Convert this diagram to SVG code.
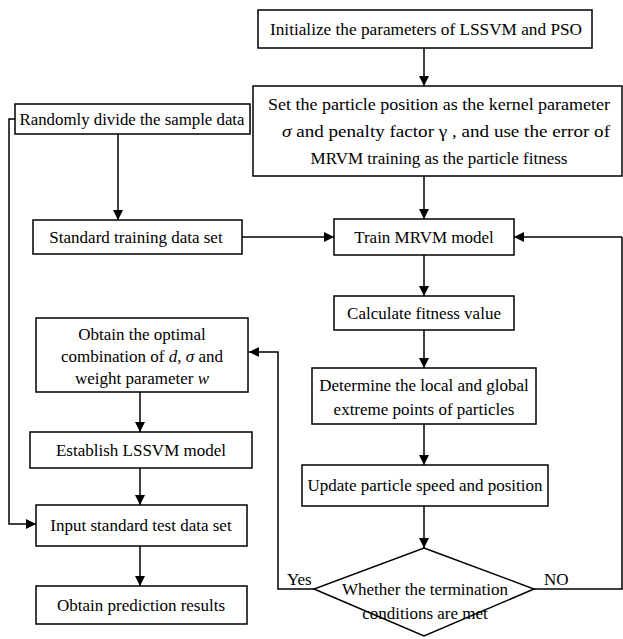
<svg xmlns="http://www.w3.org/2000/svg" width="623" height="639" viewBox="0 0 623 639" font-family="Liberation Serif, serif">
<defs>
<marker id="ah" viewBox="0 0 10 10" refX="10" refY="5" markerWidth="10" markerHeight="10" markerUnits="userSpaceOnUse" orient="auto">
<path d="M0,0 L10,5 L0,10 Z" fill="#000"/>
</marker>
<style>
.b{fill:#fff;stroke:#000;stroke-width:1.5}
.t{font-family:'Liberation Serif',serif;font-size:17px;fill:#000;text-anchor:middle}
.l{font-family:'Liberation Serif',serif;font-size:17px;fill:#000}
.c{fill:none;stroke:#000;stroke-width:1.5}
.a{fill:none;stroke:#000;stroke-width:1.5;marker-end:url(#ah)}
</style>
</defs>
<rect width="623" height="639" fill="#fff"/>
<g id="connectors">
<path class="a" d="M424,48 V86"/>
<path class="a" d="M424,176 V219"/>
<path class="a" d="M118,134 V220"/>
<path class="a" d="M242,237 H334"/>
<path class="a" d="M622,237 H514"/>
<path class="a" d="M424,255 V296"/>
<path class="a" d="M424,330 V368"/>
<path class="a" d="M424,424 V465"/>
<path class="a" d="M424,506 V548"/>
<path class="a" d="M314,589 H278 V352 H249"/>
<path class="c" d="M534,589 H622 V237"/>
<path class="a" d="M15,119 H9 V524 H36"/>
<path class="a" d="M140,392 V432"/>
<path class="a" d="M140,468 V505"/>
<path class="a" d="M140,546 V586"/>
</g>
<g id="init"><rect class="b" x="258" y="10" width="334" height="38"/><text class="t" x="426" y="35" textLength="312" lengthAdjust="spacingAndGlyphs">Initialize the parameters of LSSVM and PSO</text></g>
<g id="setpos"><rect class="b" x="253" y="86" width="369" height="90"/>
<text class="t" x="439" y="110" textLength="342" lengthAdjust="spacingAndGlyphs">Set the particle position as the kernel parameter</text>
<text class="t" x="446" y="137" textLength="328" lengthAdjust="spacingAndGlyphs"><tspan font-style="italic">σ</tspan>   and penalty factor  γ , and use the error of</text>
<text class="t" x="439" y="164">MRVM training as the particle fitness</text></g>
<g id="random"><rect class="b" x="15" y="104" width="235" height="30"/><text class="t" x="132" y="125" textLength="225" lengthAdjust="spacingAndGlyphs">Randomly divide the sample data</text></g>
<g id="stdtrain"><rect class="b" x="33" y="220" width="209" height="34"/><text class="t" x="136" y="243">Standard training data set</text></g>
<g id="train"><rect class="b" x="334" y="219" width="180" height="36"/><text class="t" x="424" y="243">Train MRVM model</text></g>
<g id="calc"><rect class="b" x="334" y="296" width="180" height="34"/><text class="t" x="424" y="319">Calculate fitness value</text></g>
<g id="determine"><rect class="b" x="312" y="368" width="224" height="56"/>
<text class="t" x="424" y="391">Determine the local and global</text>
<text class="t" x="424" y="415">extreme points of particles</text></g>
<g id="update"><rect class="b" x="302" y="465" width="246" height="41"/><text class="t" x="425" y="491">Update particle speed and position</text></g>
<g id="decision"><path class="b" d="M424,548 L534,589 L424,636 L314,589 Z"/>
<text class="t" x="425" y="595">Whether the termination</text>
<text class="t" x="425" y="619">conditions are met</text></g>
<text class="l" x="287" y="585">Yes</text>
<text class="l" x="544" y="585">NO</text>
<g id="optimal"><rect class="b" x="36" y="318" width="212" height="74"/>
<text class="t" x="142" y="340">Obtain the optimal</text>
<text class="t" x="142" y="362">combination of <tspan font-style="italic">d</tspan>, <tspan font-style="italic">σ</tspan> and</text>
<text class="t" x="142" y="384">weight parameter <tspan font-style="italic">w</tspan></text></g>
<g id="establish"><rect class="b" x="30" y="432" width="222" height="36"/><text class="t" x="141" y="456">Establish LSSVM model</text></g>
<g id="input"><rect class="b" x="36" y="505" width="211" height="41"/><text class="t" x="141" y="531">Input standard test data set</text></g>
<g id="predict"><rect class="b" x="36" y="586" width="211" height="38"/><text class="t" x="141" y="611">Obtain prediction results</text></g>
</svg>
